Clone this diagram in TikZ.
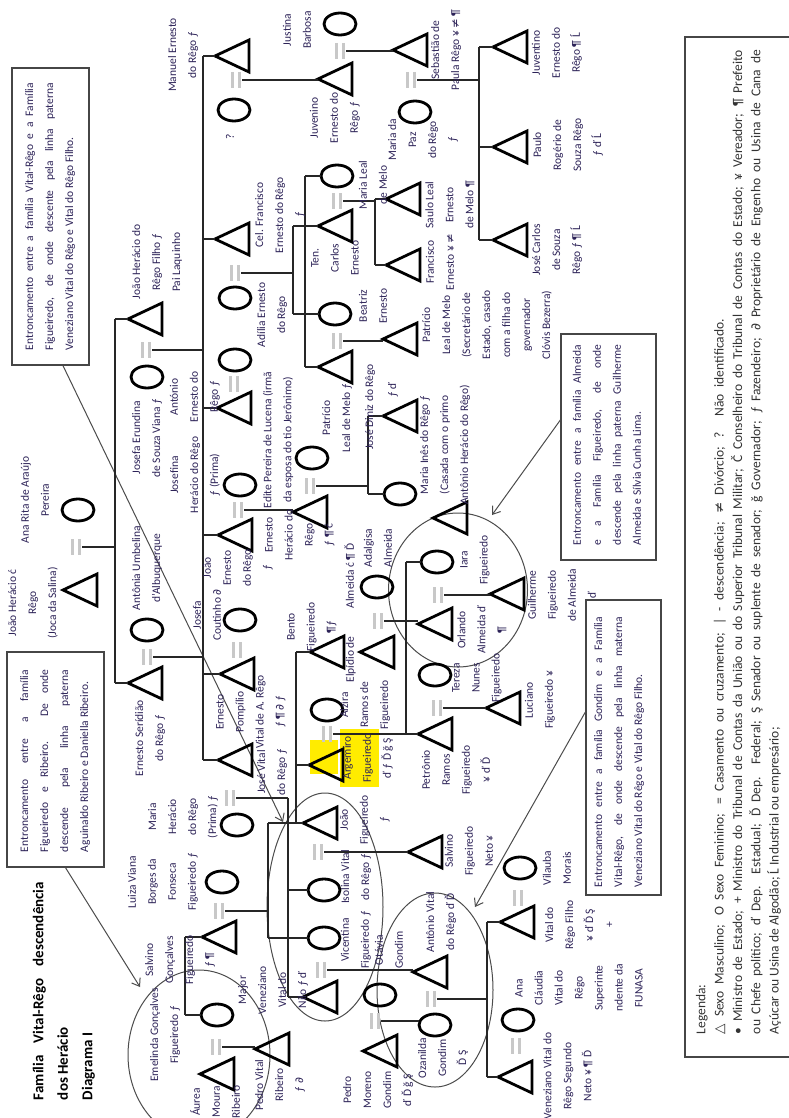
\documentclass[tikz,border=0pt]{standalone}
\usepackage{fontspec}
\setmainfont{Carlito}
\newfontfamily\symf{DejaVu Sans}
\usetikzlibrary{shapes.geometric,arrows.meta,calc}
\definecolor{namec}{RGB}{45,35,88}
\definecolor{boxc}{RGB}{70,70,70}
\definecolor{eqc}{RGB}{200,200,200}
\definecolor{hl}{RGB}{255,236,0}
\newcommand\Sy[1]{{\symf #1}}
\tikzset{
  male/.pic={\draw[line width=2.8pt, line join=miter] (-17,0) -- (17,-16) -- (17,16) -- cycle; \coordinate (-a) at (-17,0);},
  female/.pic={\draw[line width=2.8pt] (0,0) ellipse [x radius=16, y radius=11]; \coordinate (-a) at (-16,0);},
  marr/.pic={\draw[line width=2.2pt, eqc] (-3.5,-8) -- (-3.5,8) (3.5,-8) -- (3.5,8); \coordinate (-r) at (6,0);},
}
\begin{document}
\begin{tikzpicture}[x=1pt,y=-1pt,
  con/.style={line width=1.2pt, black!85},
  nm/.style={rotate=90, align=center, text=namec, inner sep=0pt, font=\fontsize{11.5}{20}\selectfont},
  bx/.style={draw=boxc, line width=1.3pt, inner sep=0pt},
  bxt/.style={rotate=90, align=left, text=namec, inner sep=0pt, font=\fontsize{11.5}{20}\selectfont},
  ring/.style={ellipse, draw=black!70, line width=1pt, inner sep=0pt},
  arr/.style={draw=black!70, line width=1pt, -{Straight Barb[length=7pt,width=10pt]}}]
\useasboundingbox (0,0) rectangle (789,1118);
\fill[white] (0,0) rectangle (789,1118);

% highlights
\fill[hl] (310,740) rectangle (338,774);
\fill[hl] (340,729) rectangle (379,787);

% rings
\node[ring, minimum width=142, minimum height=170] (E1) at (199,1055) {};
\node[ring, minimum width=116, minimum height=228] (E2) at (325,907) {};
\node[ring, minimum width=139, minimum height=154] (E3) at (458,590) {};
\node[ring, minimum width=116, minimum height=194] (E4) at (435,990) {};

% boxes
\node[bx, minimum width=77, minimum height=297] (bA) at (50.5,216.5) {};
\node[bx, minimum width=97, minimum height=215] (bB) at (55.5,759.5) {};
\node[bx, minimum width=95, minimum height=226] (bC) at (608.5,447) {};
\node[bx, minimum width=75, minimum height=295] (bD) at (623.5,747.5) {};
\node[bx, minimum width=140, minimum height=1020] (bL) at (755,547) {};

\coordinate (tipA) at (283,822);
\coordinate (tipB) at (140,987);
\coordinate (tipC) at (492,515);
\coordinate (tipD) at (475,907);
\draw[arr] ($(bA.south)+(12.5,0)$) -- (tipA);
\draw[arr] ($(bB.south)+(10,0)$) -- (tipB);
\draw[arr] ($(bC.west)+(0,-27)$) -- (tipC);
\draw[arr] ($(bD.west)+(0,-35.5)$) -- (tipD);

% persons: males
\pic (jhc) at (80,590) {male};
\pic (jhf) at (145,319) {male};
\pic (ers) at (145,683) {male};
\pic (man) at (232,56) {male};
\pic (cel) at (232,239) {male};
\pic (ant) at (234,408) {male};
\pic (jer) at (235,535) {male};
\pic (pom) at (237,674) {male};
\pic (jvr) at (235,760) {male};
\pic (juv) at (335,79) {male};
\pic (seb) at (410,50) {male};
\pic (jvt) at (510,47) {male};
\pic (pau) at (510,147) {male};
\pic (jcs) at (510,240) {male};
\pic (ten) at (335,226) {male};
\pic (pat) at (335,367) {male};
\pic (sau) at (403,199) {male};
\pic (fra) at (403,265) {male};
\pic (pts) at (400,339) {male};
\pic (ehr) at (310,512) {male};
\pic (jdz) at (400,416) {male};
\pic (txx) at (450,518) {male};
\pic (ben) at (327,652) {male};
\pic (elp) at (377,652) {male};
\pic (arg) at (326,765) {male};
\pic (ort) at (435,624) {male};
\pic (gui) at (507,594) {male};
\pic (pet) at (435,734) {male};
\pic (luc) at (503,708) {male};
\pic (jfi) at (320,823) {male};
\pic (sne) at (425,852) {male};
\pic (nil) at (320,997) {male};
\pic (avr) at (430,972) {male};
\pic (sal) at (219,937) {male};
\pic (aur) at (217,1074) {male};
\pic (pvr) at (272,1049) {male};
\pic (pmg) at (380,1051) {male};
\pic (vfi) at (517,922) {male};
\pic (vne) at (515,1077) {male};

% females
\pic (arp) at (78,510) {female};
\pic (jes) at (147,377) {female};
\pic (aum) at (147,630) {female};
\pic (unk) at (234,110) {female};
\pic (jus) at (340,24) {female};
\pic (adi) at (235,298) {female};
\pic (cx) at (235,360) {female};
\pic (jsf) at (240,485) {female};
\pic (jco) at (240,620) {female};
\pic (mhr) at (237,825) {female};
\pic (lui) at (222,882) {female};
\pic (eme) at (217,1015) {female};
\pic (mle) at (337,176) {female};
\pic (bea) at (335,314) {female};
\pic (mpz) at (415,112) {female};
\pic (edi) at (312,458) {female};
\pic (min) at (400,494) {female};
\pic (ada) at (377,587) {female};
\pic (alz) at (327,710) {female};
\pic (iar) at (437,562) {female};
\pic (ter) at (435,675) {female};
\pic (iso) at (324,890) {female};
\pic (vic) at (324,938) {female};
\pic (ota) at (380,995) {female};
\pic (oza) at (435,1025) {female};
\pic (vil) at (520,868) {female};
\pic (acl) at (518,1020) {female};

% marriages
\pic (m1) at (76,547) {marr};
\pic (m2) at (146,350) {marr};
\pic (m3) at (147,657) {marr};
\pic (m4) at (236,80) {marr};
\pic (m5) at (340,51) {marr};
\pic (m6) at (235,273) {marr};
\pic (m7) at (234,384) {marr};
\pic (m8) at (238,510) {marr};
\pic (m9) at (237,650) {marr};
\pic (m10) at (230,798) {marr};
\pic (m11) at (219,911) {marr};
\pic (m12) at (216,1047) {marr};
\pic (m13) at (337,201) {marr};
\pic (m14) at (337,341) {marr};
\pic (m15) at (411,80) {marr};
\pic (m16) at (310,486) {marr};
\pic (m17) at (378,621) {marr};
\pic (m18) at (327,734) {marr};
\pic (m19) at (438,595) {marr};
\pic (m20) at (437,708) {marr};
\pic (m21) at (318,852) {marr};
\pic (m22) at (321,970) {marr};
\pic (m23) at (431,999) {marr};
\pic (m24) at (375,1021) {marr};
\pic (m25) at (518,898) {marr};
\pic (m26) at (516,1046) {marr};

% vertical line positions
\coordinate (v1) at (115,0);
\coordinate (v2) at (203,0);
\coordinate (v3) at (479,0);
\coordinate (v4) at (293,0);
\coordinate (v5) at (305,0);
\coordinate (v6) at (375,0);
\coordinate (v7) at (368,0);
\coordinate (v8) at (288,0);
\coordinate (v9) at (268,0);
\coordinate (v10) at (296,0);
\coordinate (v11) at (185,0);
\coordinate (v12) at (406,0);
\coordinate (v13) at (487,0);

% connectors
\draw[con] (m1-r) -- (v1 |- m1-r);
\draw[con] (v1 |- jhf-a) -- (v1 |- ers-a);
\foreach \c in {jhf,ers} \draw[con] (v1 |- \c-a) -- (\c-a);

\draw[con] (m2-r) -- (v2 |- m2-r);
\draw[con] (m3-r) -- (v2 |- m3-r);
\draw[con] (v2 |- man-a) -- (v2 |- jvr-a);
\foreach \c in {man,cel,ant,jer,pom,jvr} \draw[con] (v2 |- \c-a) -- (\c-a);

\draw[con] (m4-r) -- (m4-r -| juv-a);
\draw[con] (m5-r) -- (m5-r -| seb-a);

\draw[con] (m15-r) -- (v3 |- m15-r);
\draw[con] (v3 |- jvt-a) -- (v3 |- jcs-a);
\foreach \c in {jvt,pau,jcs} \draw[con] (v3 |- \c-a) -- (\c-a);

\draw[con] (m6-r) -- (v4 |- m6-r);
\draw[con] (v4 |- ten-a) -- (v4 |- bea-a);
\foreach \c in {ten,bea} \draw[con] (v4 |- \c-a) -- (\c-a);

\draw[con] (v5 |- mle-a) -- (v5 |- pat-a);
\foreach \c in {mle,pat} \draw[con] (v5 |- \c-a) -- (\c-a);

\draw[con] (m13-r) -- (v6 |- m13-r);
\draw[con] (v6 |- sau-a) -- (v6 |- fra-a);
\foreach \c in {sau,fra} \draw[con] (v6 |- \c-a) -- (\c-a);

\draw[con] (m14-r) -- (m14-r -| pts-a);
\draw[con] (m8-r) -- (m8-r -| ehr-a);

\draw[con] (m16-r) -- (v7 |- m16-r);
\draw[con] (v7 |- jdz-a) -- (v7 |- min-a);
\foreach \c in {jdz,min} \draw[con] (v7 |- \c-a) -- (\c-a);

\draw[con] (m10-r) -- (v8 |- m10-r);
\draw[con] (v8 |- m10-r) -- (v8 |- nil-a);
\foreach \c in {iso,nil} \draw[con] (v8 |- \c-a) -- (\c-a);

\draw[con] (m11-r) -- (v9 |- m11-r);
\draw[con] (v9 |- jfi-a) -- (v9 |- vic-a);
\foreach \c in {jfi,vic} \draw[con] (v9 |- \c-a) -- (\c-a);

\draw[con] (v10 |- ben-a) -- (v10 |- jfi-a);
\foreach \c in {ben,arg} \draw[con] (v10 |- \c-a) -- (\c-a);

\draw[con] (v11 |- sal-a) -- (v11 |- eme-a);
\foreach \c in {sal,eme} \draw[con] (v11 |- \c-a) -- (\c-a);

\draw[con] (m12-r) -- (m12-r -| pvr-a);
\draw[con] (m17-r) -- (m17-r -| ort-a);
\draw[con] (m18-r) -- (m18-r -| pet-a);
\draw[con] (v12 |- iar-a) -- (v12 |- m18-r);
\draw[con] (v12 |- iar-a) -- (iar-a);
\draw[con] (m19-r) -- (m19-r -| gui-a);
\draw[con] (m20-r) -- (m20-r -| luc-a);
\draw[con] (m21-r) -- (m21-r -| sne-a);
\draw[con] (m22-r) -- (m22-r -| avr-a);
\draw[con] (m24-r) -- (m24-r -| oza-a);
\draw[con] (m23-r) -- (v13 |- m23-r);
\draw[con] (v13 |- vfi-a) -- (v13 |- vne-a);
\foreach \c in {vfi,vne} \draw[con] (v13 |- \c-a) -- (\c-a);

% title
\node[rotate=90, align=left, inner sep=0pt, font=\bfseries\fontsize{15}{24.5}\selectfont] (title) at (64,991)
  {\makebox[218pt][s]{Família Vital-Rêgo descendência}\\dos Herácio\\Diagrama I};

% box texts
\node[bxt] (tA) at (50,216.5) {\makebox[267pt][s]{Entroncamento entre a família Vital-Rêgo e a Família}\\\makebox[267pt][s]{Figueiredo, de onde descente pela linha paterna}\\Veneziano Vital do Rêgo e Vital do Rêgo Filho.};
\node[bxt] (tB) at (55,761) {\makebox[182pt][s]{Entroncamento entre a família}\\\makebox[182pt][s]{Figueiredo e Ribeiro. De onde}\\\makebox[182pt][s]{descende pela linha paterna}\\Aguinaldo Ribeiro e Daniella Ribeiro.};
\node[bxt] (tC) at (607,445) {\makebox[200pt][s]{Entroncamento entre a família Almeida}\\\makebox[200pt][s]{e a Família Figueiredo, de onde}\\\makebox[200pt][s]{descende pela linha paterna Guilherme}\\Almeida e Sílvia Cunha Lima.};
\node[bxt] (tD) at (619,752) {\makebox[270pt][s]{Entroncamento entre a família Gondim e a Família}\\\makebox[270pt][s]{Vital-Rêgo, de onde descende pela linha materna}\\Veneziano Vital do Rêgo e Vital do Rêgo Filho.};

% legend
\node[rotate=90, align=left, inner sep=0pt, text=black!80, font=\fontsize{13.5}{18.3}\selectfont] (legt) at (738.5,542)
  {Legenda:\\
   \makebox[715pt][s]{\Sy{△} Sexo Masculino; O Sexo Feminino; = Casamento ou cruzamento; | - descendência; \Sy{≠} Divórcio; ? Não identificado.}\\
   \makebox[984pt][s]{• Ministro de Estado; + Ministro do Tribunal de Contas da União ou do Superior Tribunal Militar; Č Conselheiro do Tribunal de Contas do Estado; ¥ Vereador; ¶ Prefeito}\\
   \makebox[984pt][s]{ou Chefe político; ď Dep. Estadual; Ď Dep. Federal; Ş Senador ou suplente de senador; ğ Governador; ƒ Fazendeiro; \Sy{∂} Proprietário de Engenho ou Usina de Cana de}\\
   Açúcar ou Usina de Algodão; Ĺ Industrial ou empresário;};

% names
\node[nm] (tjhc) at (33,603) {João Herácio ć\\Rêgo\\(Joca da Salina)};
\node[nm] (tarp) at (35,500) {Ana Rita de Araújo\\Pereira};
\node[nm] (tjhf) at (157,262) {João Herácio do\\Rêgo Filho ƒ\\Pai Laquinho};
\node[nm] (tjes) at (147,438) {Josefa Erundina\\de Souza Viana ƒ};
\node[nm] (taum) at (147,568) {Antônia Umbelina\\d'Albuquerque};
\node[nm] (ters) at (150,738) {Ernesto Serídião\\do Rêgo ƒ};
\node[nm] (tman) at (183,55) {Manuel Ernesto\\do Rêgo ƒ};
\node[nm] (tunk) at (230,137) {?};
\node[nm] (tjus) at (297,30) {Justina\\Barbosa};
\node[nm] (tjuv) at (335,118) {Juvenino\\Ernesto do\\Rêgo ƒ};
\node[nm] (tcel) at (280,215) {Cel. Francisco\\Ernesto do Rêgo\\ƒ};
\node[nm] (tadi) at (272,315) {Adília Ernesto\\do Rêgo};
\node[nm] (tten) at (335,258) {Ten.\\Carlos\\Ernesto};
\node[nm] (tmle) at (373,185) {Maria Leal\\de Melo};
\node[nm] (tbea) at (373,306) {Beatriz\\Ernesto};
\node[nm] (tpat) at (337,418) {Patrício\\Leal de Melo ƒ};
\node[nm] (tsau) at (450,205) {Saulo Leal\\Ernesto\\de Melo ¶};
\node[nm] (tfra) at (440,262) {Francisco\\Ernesto ¥ \Sy{≠}};
\node[nm] (tmpz) at (423,140) {Maria da\\Paz\\do Rêgo\\ƒ};
\node[nm] (tseb) at (446,50) {Sebastião de\\Paula Rêgo ¥ \Sy{≠} ¶};
\node[nm] (tjvt) at (557,53) {Juventino\\Ernesto do\\Rêgo ¶ Ĺ};
\node[nm] (tpau) at (568,145) {Paulo\\Rogério de\\Souza Rêgo\\ƒ ď Ĺ};
\node[nm] (tjcs) at (557,250) {José Carlos\\de Souza\\Rêgo ƒ ¶ Ĺ};
\node[nm] (tpts) at (487,325) {Patrício\\Leal de Melo\\(Secretário de\\Estado, casado\\com a filha do\\governador\\Clóvis Bezerra)};
\node[nm] (tant) at (195,397) {António\\Ernesto do\\Rêgo ƒ};
\node[nm] (tjsf) at (195,475) {Josefina\\Herácio do Rêgo\\ƒ (Prima)};
\node[nm] (tjer) at (238,568) {João\\Ernesto\\do Rêgo\\ƒ};
\node[nm] (tjco) at (207,615) {Josefa\\Coutinho \Sy{∂}};
\node[nm] (tpom) at (251,712) {Ernesto\\Pompílio\\Vital de A. Rêgo\\ƒ ¶ \Sy{∂} ƒ};
\node[nm] (tjvr) at (272,772) {José Vital\\do Rêgo ƒ};
\node[nm] (tmhr) at (183,817) {Maria\\Herácio\\do Rêgo\\(Prima) ƒ};
\node[nm] (tlui) at (163,882) {Luiza Viana\\Borges da\\Fonseca\\Figueiredo ƒ};
\node[nm] (tsal) at (180,960) {Salvino\\Gonçalves\\Figueiredo\\ƒ ¶};
\node[nm] (teme) at (165,1035) {Emelinda Gonçalves\\Figueiredo ƒ};
\node[nm] (taur) at (215,1102) {Áurea\\Moura\\Ribeiro};
\node[nm] (tpvr) at (280,1085) {Pedro Vital\\Ribeiro\\ƒ \Sy{∂}};
\node[nm] (tnil) at (273,990) {Major\\Veneziano\\Vital do\\Nilo ƒ ď};
\node[nm] (tjfi) at (365,820) {João\\Figueiredo\\ƒ};
\node[nm] (tiso) at (356,877) {Isolina Vital\\do Rêgo ƒ};
\node[nm] (tvic) at (356,940) {Vicentina\\Figueiredo ƒ};
\node[nm] (tsne) at (469,851) {Salvino\\Figueiredo\\Neto ¥};
\node[nm] (targ) at (368,758) {Argemiro\\Figueiredo\\ď ƒ Ď ğ Ş};
\node[nm] (talz) at (365,705) {Alzira\\Ramos de\\Figueiredo};
\node[nm] (tben) at (312,627) {Bento\\Figueiredo\\¶ƒ};
\node[nm] (telp) at (350,613) {Elpídio de\hspace{28pt}Almeida ć ¶ Ď};
\node[nm] (tada) at (378,548) {Adalgisa\\Almeida};
\node[nm] (tedi) at (278,440) {Edite Pereira de Lucena (irmã\\da esposa do tio Jerônimo)};
\node[nm] (tehr) at (300,535) {Ernesto\\Herácio do\\Rêgo\\ƒ ¶ ć};
\node[nm] (tjdz) at (370,407) {José Diniz do Rêgo};
\node[nm] (tjdz2) at (393,390) {ƒ ď};
\node[nm] (tmin) at (445,445) {Maria Inês do Rêgo ƒ\\(Casada com o primo\\Antônio Herácio do Rêgo)};
\node[nm] (tiar) at (475,560) {Iara\\Figueiredo};
\node[nm] (tort) at (482,630) {Orlando\\Almeida ď\\¶};
\node[nm] (tgui) at (562,595) {Guilherme\\Figueiredo\\de Almeida\\ď};
\node[nm] (tter) at (477,678) {Tereza\\Nunes\\Figueiredo};
\node[nm] (tluc) at (540,700) {Luciano\\Figueiredo ¥};
\node[nm] (tpet) at (456,770) {Petrônio\\Ramos\\Figueiredo\\¥ ď Ď};
\node[nm] (tavr) at (441,922) {Antônio Vital\\do Rêgo ď Ď};
\node[nm] (tota) at (389,950) {Otávia\\Gondim};
\node[nm] (tpmg) at (378,1090) {Pedro\\Moreno\\Gondim\\ď Ď ğ Ş};
\node[nm] (toza) at (443,1058) {Ozanilda\\Gondim\\Ď Ş};
\node[nm] (tvil) at (557,868) {Vilauba\\Morais};
\node[nm] (tvfi) at (579,925) {Vital do\\Rêgo Filho\\¥ ď Ď Ş\\+};
\node[nm] (tacl) at (579,988) {Ana\\Cláudia\\Vital do\\Rêgo\\Superinte\\ndente da\\FUNASA};
\node[nm] (tvne) at (568,1076) {Veneziano Vital do\\Rêgo Segundo\\Neto ¥ ¶ Ď};
\end{tikzpicture}
\end{document}
